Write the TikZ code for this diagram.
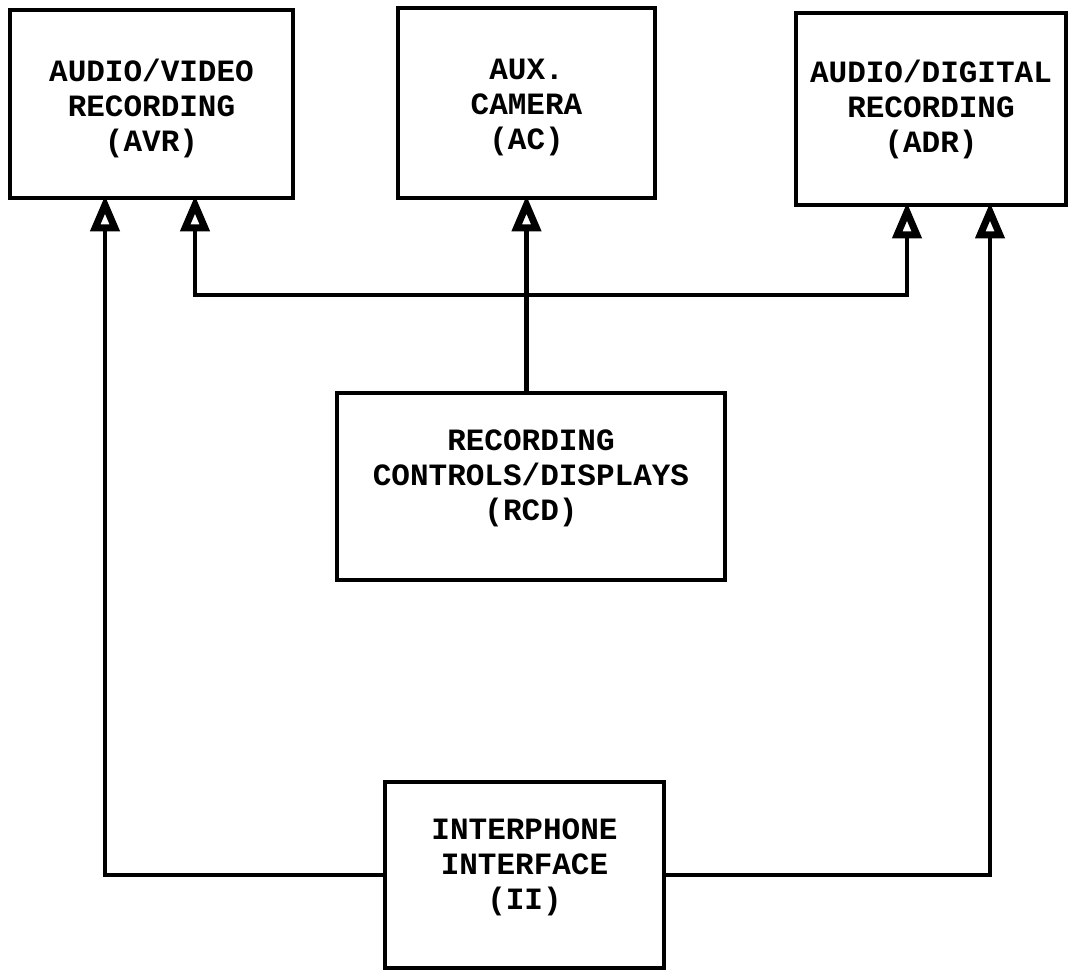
\documentclass[tikz,border=0pt]{standalone}
\usepackage{fontspec}
\usepackage{tikz}
\usetikzlibrary{arrows.meta}
\newfontfamily\typewriter{Liberation Mono}
\tikzset{
  unit/.style={draw, line width=4.5pt, inner sep=0pt},
  caption/.style={align=center, inner sep=0pt,
    font=\typewriter\bfseries\fontsize{31}{35}\selectfont},
  feed/.style={line width=4.5pt, shorten >=-5pt,
    -{Triangle[open, length=36pt, width=28pt, line width=7pt]}}
}

\begin{document}
\begin{tikzpicture}[x=1pt, y=-1pt]
  \useasboundingbox (0,0) rectangle (1068,971);
  % top row
  \node[unit, minimum width=283pt, minimum height=188pt] (avr) at (151.5,104) {};
  \node[unit, minimum width=257pt, minimum height=190pt] (ac) at (526.5,103) {};
  \node[unit, minimum width=270pt, minimum height=192pt] (adr) at (931,109) {};
  % middle and bottom
  \node[unit, minimum width=388pt, minimum height=187pt] (rcd) at (531,486.5) {};
  \node[unit, minimum width=279pt, minimum height=186pt] (ii) at (524.5,875) {};
  % texts
  \node[caption] (avr-text) at ([yshift=-4pt]avr.center) {AUDIO/VIDEO\\RECORDING\\(AVR)};
  \node[caption] (ac-text) at ([yshift=-5pt]ac.center) {AUX.\\CAMERA\\(AC)};
  \node[caption] (adr-text) at (adr.center) {AUDIO/DIGITAL\\RECORDING\\(ADR)};
  \node[caption] (rcd-text) at ([yshift=8pt]rcd.center) {RECORDING\\CONTROLS/DISPLAYS\\(RCD)};
  \node[caption] (ii-text) at ([yshift=8pt]ii.center) {INTERPHONE\\INTERFACE\\(II)};
  % bus
  \coordinate (bus) at (ac.south |- 0,295);
  \draw[feed] (rcd.north -| ac.south) -- (ac.south);
  \draw[feed] (bus) -| ([xshift=43.5pt]avr.south);
  \draw[feed] (bus) -| ([xshift=-24pt]adr.south);
  % interphone lines
  \draw[feed] (ii.west) -| ([xshift=-46.5pt]avr.south);
  \draw[feed] (ii.east) -| ([xshift=59pt]adr.south);
\end{tikzpicture}
\end{document}
